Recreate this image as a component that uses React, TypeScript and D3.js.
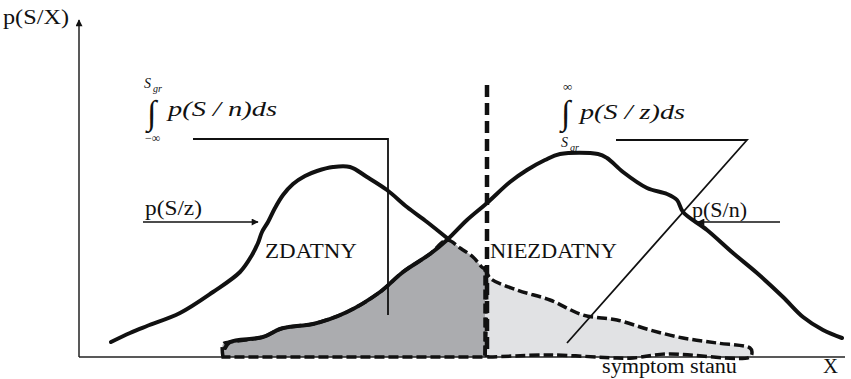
import React, { useRef, useEffect } from "react";
import * as d3 from "d3";

type Pt = [number, number];

// units: x = distance right of the p(S/X) axis, y = height above the symptom axis
// p(S/z) - stan zdatny (solid part)
const zdatnyCurve: Pt[] = [
  [32, 15], [51, 24], [68, 31], [101, 44], [134, 65], [161, 85], [173, 102],
  [179, 114], [183, 125], [189, 135], [196, 149], [204, 162], [214, 173],
  [226, 181], [238, 186], [254, 190], [271, 190], [288, 180], [308, 167],
  [328, 150], [348, 135], [368, 119],
];
// p(S/z) right tail, drawn dashed as the edge of the shaded areas
const zdatnyTail: Pt[] = [
  [368, 117], [381, 109], [394, 100], [404, 89], [411, 79], [438, 67],
  [471, 57], [504, 42], [538, 37], [571, 27], [604, 19], [638, 14],
  [671, 9], [673, 5],
];
// p(S/n) - stan niezdatny
const niezdatnyCurve: Pt[] = [
  [146, 9], [151, 15], [184, 20], [201, 28], [218, 31], [234, 33], [268, 45],
  [301, 65], [324, 85], [351, 103], [368, 117], [388, 137], [408, 154],
  [431, 175], [448, 187], [466, 197], [481, 203], [519, 203], [528, 199],
  [544, 185], [568, 169], [588, 163], [598, 157], [604, 145], [628, 127],
  [654, 104], [678, 84], [704, 60], [724, 40], [744, 27], [763, 19],
];
const lightBottom: Pt[] = [
  [671, 0], [588, 3], [554, -1], [538, -1], [471, 2], [411, 0], [406, 0],
];
const sGr = 406;

const leftLeader: Pt[] = [[114, 218], [309, 218], [309, 42]];
const rightLeader: Pt[] = [[537, 217], [668, 217], [488, 14]];
const arrowZ: Pt[] = [[64, 135], [179, 135]];
const arrowN: Pt[] = [[701, 135], [619, 135]];

const serif = "Liberation Serif";

const App = () => {
  const svgRef = useRef<SVGSVGElement>(null);

  useEffect(() => {
    const width = 851;
    const height = 379;
    const svg = d3.select(svgRef.current);
    svg.selectAll("*").remove();

    const x = d3.scaleLinear().domain([0, 766]).range([79, 845]);
    const y = d3.scaleLinear().domain([0, 335]).range([357, 22]);

    const smooth = d3
      .line<Pt>()
      .x((d) => x(d[0]))
      .y((d) => y(d[1]))
      .curve(d3.curveCatmullRom.alpha(0.5));
    const straight = d3
      .line<Pt>()
      .x((d) => x(d[0]))
      .y((d) => y(d[1]));

    const defs = svg.append("defs");
    defs
      .append("marker")
      .attr("id", "arr")
      .attr("viewBox", "0 0 10 10")
      .attr("refX", 9)
      .attr("refY", 5)
      .attr("markerWidth", 9)
      .attr("markerHeight", 7)
      .attr("markerUnits", "userSpaceOnUse")
      .attr("orient", "auto")
      .append("path")
      .attr("d", "M0,0 L10,5 L0,10 Z")
      .attr("fill", "#111");

    // shaded areas
    const dark: Pt[] = [
      [144, 0],
      [144, 13],
      ...niezdatnyCurve.slice(1, 11),
      ...zdatnyTail.slice(1, 4),
      [sGr, 89],
      [sGr, 0],
    ];
    const light: Pt[] = [[sGr, 89], ...zdatnyTail.slice(4), ...lightBottom];

    svg.append("path").attr("d", smooth(dark) + "Z").attr("fill", "#abacaf");
    svg.append("path").attr("d", smooth(light) + "Z").attr("fill", "#e1e2e4");

    // axes
    svg
      .append("line")
      .attr("x1", x(0)).attr("x2", x(766))
      .attr("y1", y(0)).attr("y2", y(0))
      .attr("stroke", "#222").attr("stroke-width", 1.5);
    svg
      .append("line")
      .attr("x1", x(0)).attr("x2", x(0))
      .attr("y1", y(0)).attr("y2", y(335) - 2)
      .attr("stroke", "#222").attr("stroke-width", 1.5)
      .attr("marker-end", "url(#arr)");

    // leaders and arrows
    [leftLeader, rightLeader].forEach((l) =>
      svg
        .append("path")
        .attr("d", straight(l))
        .attr("fill", "none")
        .attr("stroke", "#111")
        .attr("stroke-width", 1.8)
    );
    [arrowZ, arrowN].forEach((l) =>
      svg
        .append("path")
        .attr("d", straight(l))
        .attr("fill", "none")
        .attr("stroke", "#111")
        .attr("stroke-width", 1.4)
        .attr("marker-end", "url(#arr)")
    );

    // density curves
    [zdatnyCurve, niezdatnyCurve].forEach((c) =>
      svg
        .append("path")
        .attr("d", smooth(c))
        .attr("fill", "none")
        .attr("stroke", "#111")
        .attr("stroke-width", 4)
        .attr("stroke-linejoin", "round")
        .attr("stroke-linecap", "round")
    );

    // dashed outlines of integrals
    [dark, light].forEach((a) =>
      svg
        .append("path")
        .attr("d", smooth(a) + "Z")
        .attr("fill", "none")
        .attr("stroke", "#111")
        .attr("stroke-width", 3.5)
        .attr("stroke-dasharray", "10 4")
    );

    // S_gr threshold
    svg
      .append("line")
      .attr("x1", x(sGr) + 2).attr("x2", x(sGr) + 2)
      .attr("y1", y(272)).attr("y2", y(0))
      .attr("stroke", "#111")
      .attr("stroke-width", 4.5)
      .attr("stroke-dasharray", "12 6");

    // text, optionally stretched horizontally to a given width
    const text = (
      px: number,
      py: number,
      s: string,
      size: number,
      len?: number,
      italic = false
    ) => {
      const t = svg
        .append("text")
        .attr("x", 0)
        .attr("y", 0)
        .style("font-family", serif)
        .style("font-size", size + "px")
        .style("font-style", italic ? "italic" : "normal")
        .attr("fill", "#111")
        .text(s);
      let sx = 1;
      if (len) {
        const w = (t.node() as SVGTextElement).getComputedTextLength();
        if (w > 0) sx = len / w;
      }
      t.attr("transform", `translate(${px},${py}) scale(${sx},1)`);
      return t;
    };

    text(3, 24, "p(S/X)", 20, 66);
    text(145, 215, "p(S/z)", 20, 57);
    text(692, 217, "p(S/n)", 20, 55);
    text(265, 258, "ZDATNY", 20, 92);
    text(490, 258, "NIEZDATNY", 20, 127);
    text(602, 373, "symptom stanu", 20, 135);
    text(823, 373, "X", 20, 15);

    // integral formulas
    text(147, 124, "\u222B", 34);
    text(144, 88, "S", 14, undefined, true);
    text(153, 92, "gr", 10, undefined, true);
    text(145, 142, "\u2212\u221E", 12);
    text(168, 116, "p(S / n)ds", 21, 109, true);

    text(561, 124, "\u222B", 34);
    text(563, 91, "\u221E", 13);
    text(561, 147, "S", 14, undefined, true);
    text(570, 151, "gr", 10, undefined, true);
    text(580, 119, "p(S / z)ds", 21, 105, true);

    svg.attr("width", width).attr("height", height);
  }, []);

  return (
    <svg
      ref={svgRef}
      width={851}
      height={379}
      style={{ position: "absolute", left: 0, top: 0, background: "#fff" }}
    />
  );
};

export default App;
